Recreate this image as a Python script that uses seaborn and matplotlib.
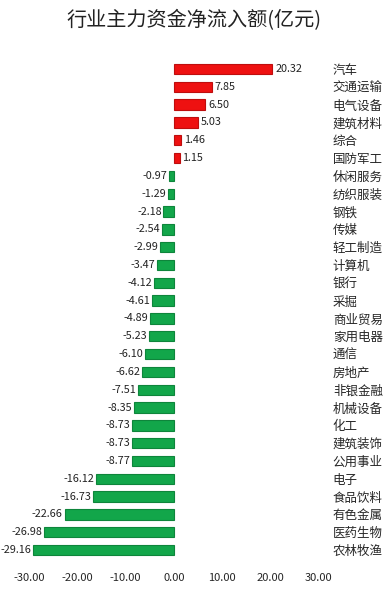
import numpy as np
import pandas as pd
import matplotlib
matplotlib.use("Agg")
import matplotlib.pyplot as plt
import seaborn as sns

sns.set_style("white")
plt.rcParams['font.family'] = ['Noto Sans CJK SC', 'DejaVu Sans']
plt.rcParams['axes.unicode_minus'] = False

industries = ["汽车", "交通运输", "电气设备", "建筑材料", "综合", "国防军工",
              "休闲服务", "纺织服装", "钢铁", "传媒", "轻工制造", "计算机",
              "银行", "采掘", "商业贸易", "家用电器", "通信", "房地产",
              "非银金融", "机械设备", "化工", "建筑装饰", "公用事业", "电子",
              "食品饮料", "有色金属", "医药生物", "农林牧渔"]
flows = [20.32, 7.85, 6.50, 5.03, 1.46, 1.15,
         -0.97, -1.29, -2.18, -2.54, -2.99, -3.47,
         -4.12, -4.61, -4.89, -5.23, -6.10, -6.62,
         -7.51, -8.35, -8.73, -8.73, -8.77, -16.12,
         -16.73, -22.66, -26.98, -29.16]
xticks = [-30, -20, -10, 0, 10, 20, 30]

df = pd.DataFrame({"industry": industries, "flow": flows})
df["sign"] = np.where(df["flow"] > 0, "in", "out")

fig = plt.figure(figsize=(3.88, 5.95), dpi=100)
ax = fig.add_axes([0.075, 0.0605, 0.747, 0.8385])

sns.barplot(data=df, x="flow", y="industry", hue="sign",
            palette={"in": "#ee1111", "out": "#12a64a"},
            saturation=1, width=0.58, legend=False, ax=ax, dodge=False,
            edgecolor="none")
for p in ax.patches:
    c = p.get_facecolor()
    p.set_edgecolor(tuple(v * 0.8 for v in c[:3]) + (1,))
    p.set_linewidth(0.8)

for i, v in enumerate(flows):
    if v > 0:
        ax.text(v + 0.6, i, f"{v:.2f}", va="center", ha="left", fontsize=7.8,
                color="#222222")
    else:
        ax.text(v - 0.35, i, f"{v:.2f}", va="center", ha="right", fontsize=7.8,
                color="#222222")

ax.set_xlim(-30, 30)
ax.set_ylim(27.5, -0.5)
ax.set_xticks(xticks)
ax.set_xticklabels([f"{t:.2f}" for t in xticks], fontsize=8)
ax.yaxis.tick_right()
ax.tick_params(axis="y", length=0, pad=10, labelsize=9)
ax.tick_params(axis="x", length=0, pad=10)
ax.set_xlabel("")
ax.set_ylabel("")
for s in ax.spines.values():
    s.set_visible(False)

fig.text(0.5, 0.965, "行业主力资金净流入额(亿元)", ha="center", va="center",
         fontsize=14.5, color="#222222")

fig.savefig("out.png", dpi=100)
